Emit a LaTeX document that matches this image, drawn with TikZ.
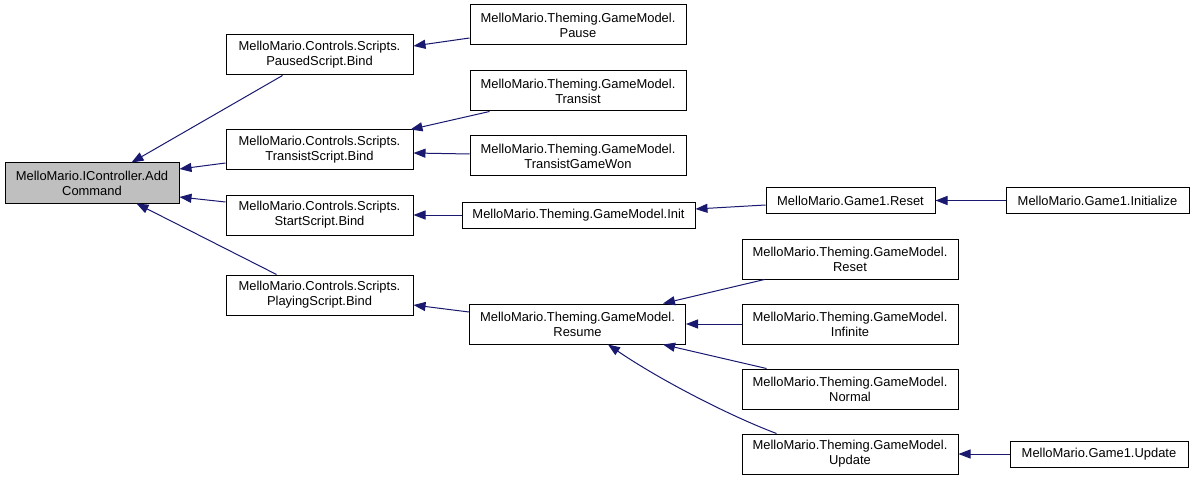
\documentclass[tikz,border=0pt]{standalone}
\usepackage{fontspec}
\setmainfont{Liberation Sans}
\usetikzlibrary{arrows.meta,calc}
\definecolor{edgeblue}{HTML}{191970}
\definecolor{rootgray}{HTML}{BFBFBF}
\begin{document}
\begin{tikzpicture}[x=0.75pt,y=-0.75pt,
  fbox/.style={draw=black,line width=0.75pt,fill=white,align=center,inner sep=0pt,
    font=\fontsize{9.7}{11.25}\selectfont,minimum height=30pt},
  onebox/.style={fbox,minimum height=19.5pt},
  edge/.style={draw=edgeblue,line width=0.75pt,-{Triangle[length=9pt,width=6.8pt]}}]
\useasboundingbox (0,0) rectangle (1195,481);
% nodes
\node[fbox,fill=rootgray,minimum width=130.5pt] (A) at (92,183) {MelloMario.IController.Add\\Command};
\node[fbox,minimum width=140.25pt] (B1) at (319.5,55) {MelloMario.Controls.Scripts.\\PausedScript.Bind};
\node[fbox,minimum width=140.25pt] (B2) at (319.5,150) {MelloMario.Controls.Scripts.\\TransistScript.Bind};
\node[fbox,minimum width=140.25pt] (B3) at (319.5,215) {MelloMario.Controls.Scripts.\\StartScript.Bind};
\node[fbox,minimum width=140.25pt] (B4) at (319.5,295) {MelloMario.Controls.Scripts.\\PlayingScript.Bind};
\node[fbox,minimum width=162pt] (C1) at (578,25) {MelloMario.Theming.GameModel.\\Pause};
\node[fbox,minimum width=162pt] (C2) at (578,91) {MelloMario.Theming.GameModel.\\Transist};
\node[fbox,minimum width=162pt] (C3) at (578,156) {MelloMario.Theming.GameModel.\\TransistGameWon};
\node[onebox,minimum width=174.75pt] (C4) at (578.5,215) {MelloMario.Theming.GameModel.Init};
\node[fbox,minimum width=162pt] (C5) at (577.5,324) {MelloMario.Theming.GameModel.\\Resume};
\node[onebox,minimum width=126.75pt] (D1) at (850.5,200.5) {MelloMario.Game1.Reset};
\node[fbox,minimum width=162pt] (D2) at (850,259) {MelloMario.Theming.GameModel.\\Reset};
\node[fbox,minimum width=162pt] (D3) at (850,324) {MelloMario.Theming.GameModel.\\Infinite};
\node[fbox,minimum width=162pt] (D4) at (850,389) {MelloMario.Theming.GameModel.\\Normal};
\node[fbox,minimum width=162pt] (D5) at (850,454) {MelloMario.Theming.GameModel.\\Update};
\node[onebox,minimum width=137.25pt] (E1) at (1097.5,200.5) {MelloMario.Game1.Initialize};
\node[onebox,minimum width=133.5pt] (E2) at (1099,454) {MelloMario.Game1.Update};
% edges
\draw[edge] ($(B1.south west)+(57,0)$) -- ($(A.north west)+(127,0)$);
\draw[edge] ($(B2.west)+(0,13)$) -- ($(A.east)+(0,-14)$);
\draw[edge] ($(B3.west)+(0,-13)$) -- ($(A.east)+(0,14)$);
\draw[edge] ($(B4.north west)+(51,0)$) -- ($(A.south west)+(132,0)$);
\draw[edge] ($(C1.west)+(0,13)$) -- ($(B1.east)+(0,-9)$);
\draw[edge] ($(C2.south west)+(20,0)$) -- ($(B2.north east)+(-3,0)$);
\draw[edge] ($(C3.west)+(0,-2)$) -- ($(B2.east)+(0,3)$);
\draw[edge] (C4.west) -- (B3.east);
\draw[edge] ($(D1.west)+(0,4.5)$) -- ($(C4.east)+(0,-6)$);
\draw[edge] (E1.west) -- (D1.east);
\draw[edge] ($(C5.west)+(0,-12)$) -- ($(B4.east)+(0,10)$);
\draw[edge] ($(D2.south west)+(23,0)$) -- ($(C5.north west)+(194,0)$);
\draw[edge] (D3.west) -- (C5.east);
\draw[edge] ($(D4.north west)+(25,0)$) -- ($(C5.south west)+(194,0)$);
\draw[edge] ($(D5.north west)+(35,0)$) .. controls (730,416) and (660,380) .. ($(C5.south west)+(139,0)$);
\draw[edge] (E2.west) -- (D5.east);
\end{tikzpicture}
\end{document}
